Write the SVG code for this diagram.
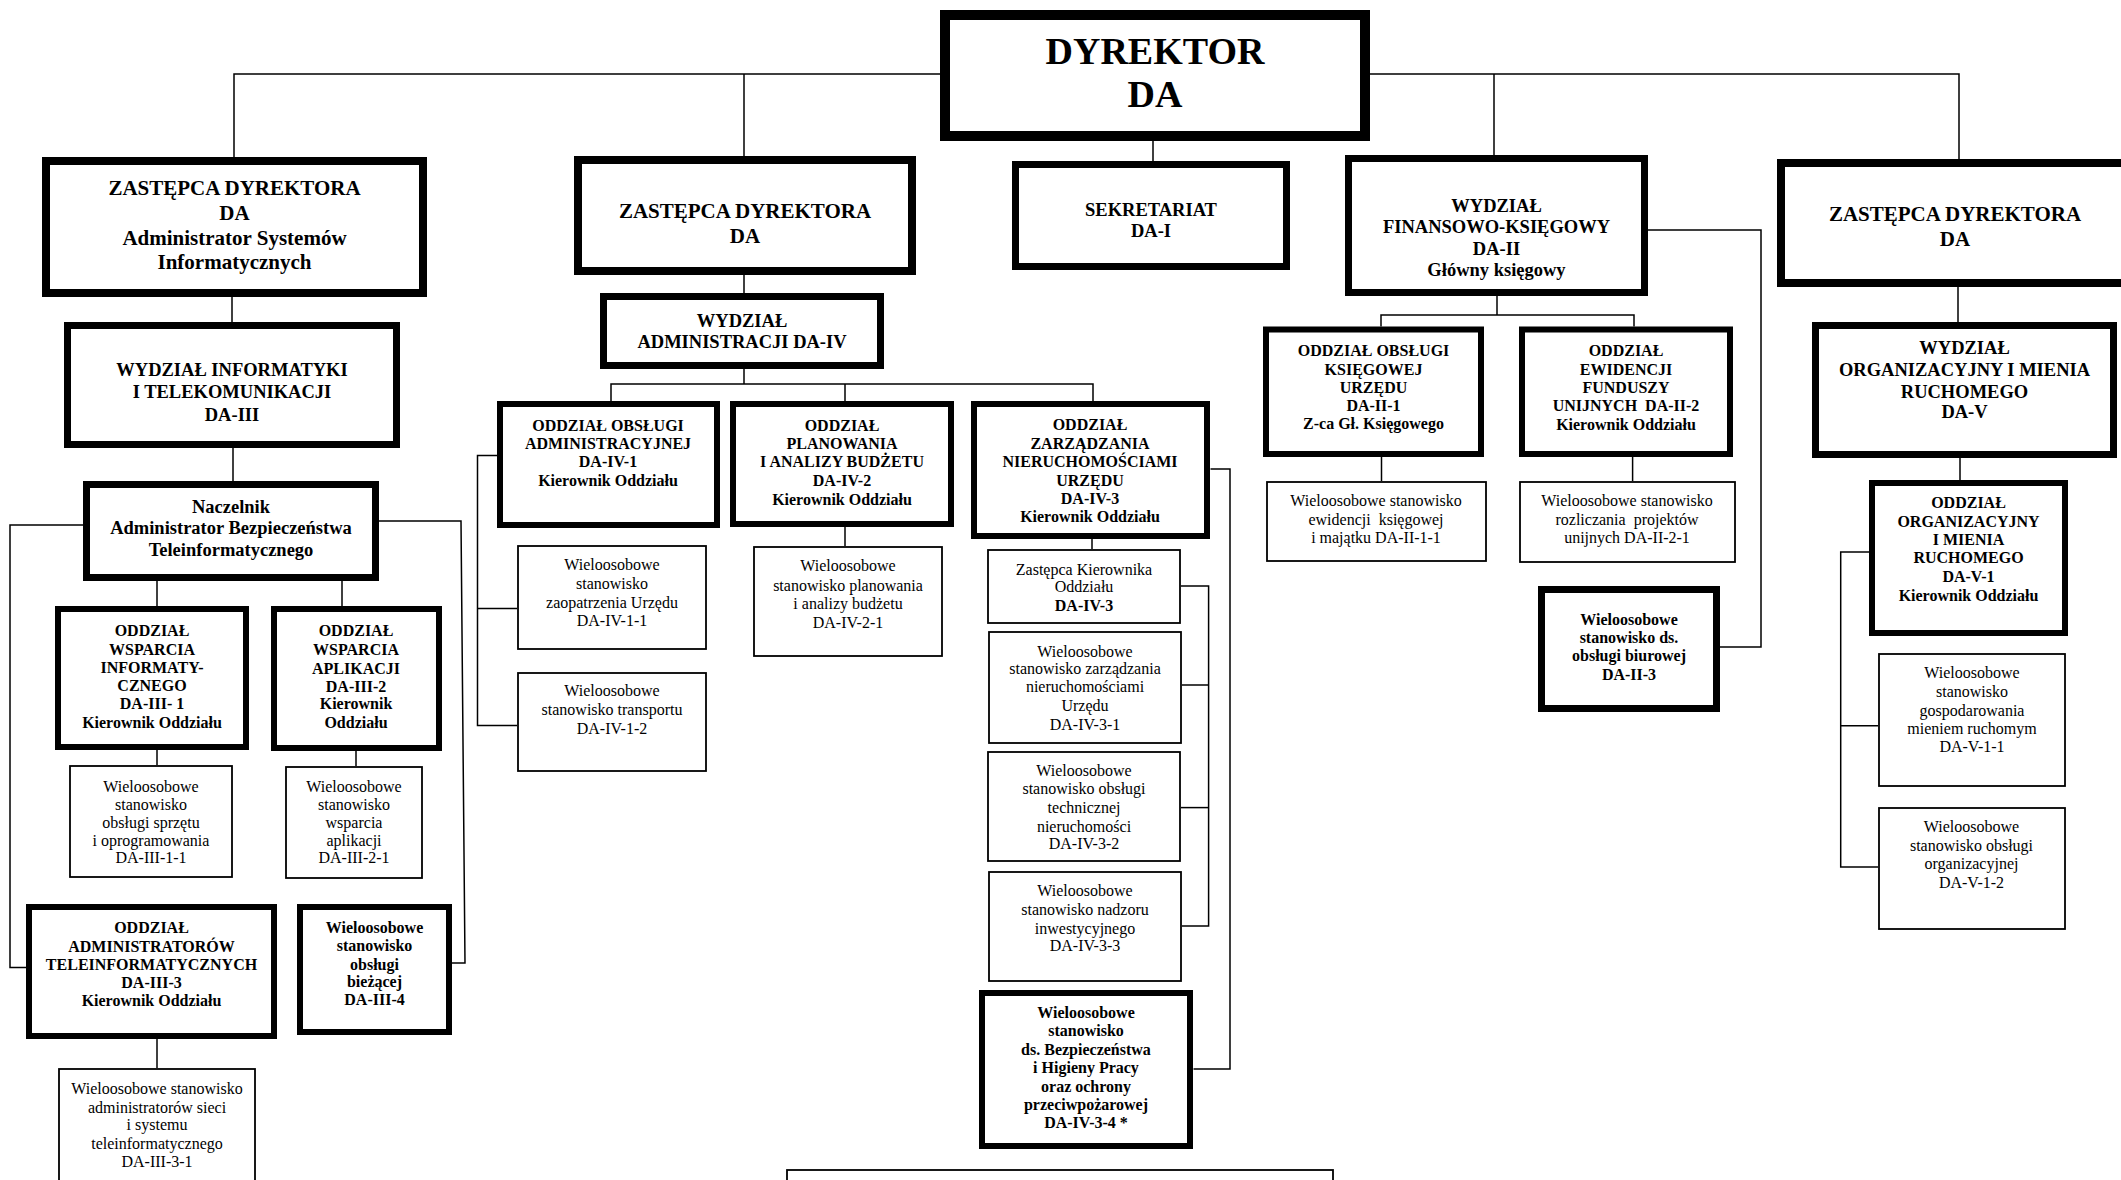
<svg xmlns="http://www.w3.org/2000/svg" width="2121" height="1180" viewBox="0 0 2121 1180">
<style>
rect{fill:#fff;stroke:#000}
.w10{stroke-width:10}.w8{stroke-width:8}.w7{stroke-width:7}.w6{stroke-width:6}.w2{stroke-width:1.8}
text{font-family:"Liberation Serif","Times New Roman",serif;text-anchor:middle;fill:#000}
.b{font-weight:bold}
.s38{font-size:38px}.s21{font-size:21px}.s18{font-size:18.5px}.s16{font-size:16px}
#conn path{fill:none;stroke:#000;stroke-width:1.5}
</style>
<rect x="0" y="0" width="2121" height="1180" style="fill:#fff;stroke:none"/>
<g id="conn">
<path d="M234,158 V74 H1959 V159"/>
<path d="M744,74 V156"/>
<path d="M1494,74 V155"/>
<path d="M1153,141 V161"/>
<path d="M232,297 V322"/>
<path d="M233,448 V481"/>
<path d="M157,581 V606"/>
<path d="M342,581 V606"/>
<path d="M157,750 V765"/>
<path d="M356,751 V766"/>
<path d="M157,1039 V1068"/>
<path d="M83,525 H10 V967.6 H26"/>
<path d="M379,521 H461 L465,963 H452"/>
<path d="M744,275 V293"/>
<path d="M744,369 V384"/>
<path d="M611,401 V384 H1093 V401"/>
<path d="M845,384 V401"/>
<path d="M497,455.5 H477.5 V725.4 H517"/>
<path d="M477.5,608.6 H517"/>
<path d="M845,527 V546"/>
<path d="M1092,539 V549"/>
<path d="M1181,586 H1208.6 V926 H1182"/>
<path d="M1182,685 H1208.6"/>
<path d="M1181,807.6 H1208.6"/>
<path d="M1210.5,469 H1230 V1069 H1193.5"/>
<path d="M1497,296 V315"/>
<path d="M1381,326.5 V315 H1634 V326.5"/>
<path d="M1381.5,457 V481"/>
<path d="M1632.6,457 V481"/>
<path d="M1648,230 H1761 V647 H1720"/>
<path d="M1958,287 V322"/>
<path d="M1960,458 V480"/>
<path d="M1869,552 H1840.7 V867 H1878"/>
<path d="M1840.7,725.7 H1878"/>
</g>

<g id="dyrektor"><rect class="w10" x="945" y="15" width="420" height="121"/>
<text class="b s38"><tspan x="1155" y="64">DYREKTOR</tspan><tspan x="1155" y="107">DA</tspan></text></g>

<g id="zastepca1"><rect class="w8" x="46" y="161" width="377" height="132"/>
<text class="b s21"><tspan x="234.5" y="195">ZASTĘPCA DYREKTORA</tspan><tspan x="234.5" y="220">DA</tspan><tspan x="234.5" y="245">Administrator Systemów</tspan><tspan x="234.5" y="269">Informatycznych</tspan></text></g>

<g id="zastepca2"><rect class="w8" x="578" y="160" width="334" height="111"/>
<text class="b s21"><tspan x="745" y="218">ZASTĘPCA DYREKTORA</tspan><tspan x="745" y="243">DA</tspan></text></g>

<g id="sekretariat"><rect class="w7" x="1015.5" y="164.5" width="271" height="102"/>
<text class="b s18"><tspan x="1151" y="216">SEKRETARIAT</tspan><tspan x="1151" y="237">DA-I</tspan></text></g>

<g id="wydzial-fin"><rect class="w7" x="1348.5" y="158.5" width="296" height="134"/>
<text class="b s18"><tspan x="1496.5" y="212">WYDZIAŁ</tspan><tspan x="1496.5" y="233">FINANSOWO-KSIĘGOWY</tspan><tspan x="1496.5" y="255">DA-II</tspan><tspan x="1496.5" y="276">Główny księgowy</tspan></text></g>

<g id="zastepca3"><rect class="w8" x="1781" y="163" width="355" height="120"/>
<text class="b s21"><tspan x="1955" y="221">ZASTĘPCA DYREKTORA</tspan><tspan x="1955" y="246">DA</tspan></text></g>

<g id="wydzial-inf"><rect class="w7" x="67.5" y="325.5" width="329" height="119"/>
<text class="b s18"><tspan x="232" y="376">WYDZIAŁ INFORMATYKI</tspan><tspan x="232" y="398">I TELEKOMUNIKACJI</tspan><tspan x="232" y="421">DA-III</tspan></text></g>

<g id="naczelnik"><rect class="w7" x="86.5" y="484.5" width="289" height="93"/>
<text class="b s18"><tspan x="231" y="513">Naczelnik</tspan><tspan x="231" y="534">Administrator Bezpieczeństwa</tspan><tspan x="231" y="555.5">Teleinformatycznego</tspan></text></g>

<g id="da-iii-1"><rect class="w6" x="58" y="609" width="188" height="138"/>
<text class="b s16"><tspan x="152" y="636">ODDZIAŁ</tspan><tspan x="152" y="654.5">WSPARCIA</tspan><tspan x="152" y="673">INFORMATY-</tspan><tspan x="152" y="691">CZNEGO</tspan><tspan x="152" y="709">DA-III- 1</tspan><tspan x="152" y="728">Kierownik Oddziału</tspan></text></g>

<g id="da-iii-2"><rect class="w6" x="274" y="609" width="165" height="139"/>
<text class="b s16"><tspan x="356" y="636">ODDZIAŁ</tspan><tspan x="356" y="655">WSPARCIA</tspan><tspan x="356" y="673.5">APLIKACJI</tspan><tspan x="356" y="691.5">DA-III-2</tspan><tspan x="356" y="709">Kierownik</tspan><tspan x="356" y="728">Oddziału</tspan></text></g>

<g id="da-iii-1-1"><rect class="w2" x="70" y="766" width="162" height="111"/>
<text class="s16"><tspan x="151" y="791.5">Wieloosobowe</tspan><tspan x="151" y="809.5">stanowisko</tspan><tspan x="151" y="828">obsługi sprzętu</tspan><tspan x="151" y="846">i oprogramowania</tspan><tspan x="151" y="863">DA-III-1-1</tspan></text></g>

<g id="da-iii-2-1"><rect class="w2" x="286" y="767" width="136" height="111"/>
<text class="s16"><tspan x="354" y="791.5">Wieloosobowe</tspan><tspan x="354" y="809.5">stanowisko</tspan><tspan x="354" y="828">wsparcia</tspan><tspan x="354" y="846">aplikacji</tspan><tspan x="354" y="863">DA-III-2-1</tspan></text></g>

<g id="da-iii-3"><rect class="w6" x="29" y="907" width="245" height="129"/>
<text class="b s16"><tspan x="151.5" y="933">ODDZIAŁ</tspan><tspan x="151.5" y="952">ADMINISTRATORÓW</tspan><tspan x="151.5" y="970">TELEINFORMATYCZNYCH</tspan><tspan x="151.5" y="988">DA-III-3</tspan><tspan x="151.5" y="1006">Kierownik Oddziału</tspan></text></g>

<g id="da-iii-4"><rect class="w6" x="300" y="907" width="149" height="125"/>
<text class="b s16"><tspan x="374.5" y="933">Wieloosobowe</tspan><tspan x="374.5" y="951">stanowisko</tspan><tspan x="374.5" y="969.5">obsługi</tspan><tspan x="374.5" y="987">bieżącej</tspan><tspan x="374.5" y="1005">DA-III-4</tspan></text></g>

<g id="da-iii-3-1"><rect class="w2" x="59" y="1069" width="196" height="130"/>
<text class="s16"><tspan x="157" y="1093.5">Wieloosobowe stanowisko</tspan><tspan x="157" y="1112.5">administratorów sieci</tspan><tspan x="157" y="1130">i systemu</tspan><tspan x="157" y="1149">teleinformatycznego</tspan><tspan x="157" y="1166.5">DA-III-3-1</tspan></text></g>

<g id="wydzial-adm"><rect class="w7" x="603.5" y="296.5" width="277" height="69"/>
<text class="b s18"><tspan x="742" y="327">WYDZIAŁ</tspan><tspan x="742" y="348">ADMINISTRACJI DA-IV</tspan></text></g>

<g id="da-iv-1"><rect class="w6" x="500" y="404" width="217" height="121"/>
<text class="b s16"><tspan x="608" y="431">ODDZIAŁ OBSŁUGI</tspan><tspan x="608" y="449">ADMINISTRACYJNEJ</tspan><tspan x="608" y="467">DA-IV-1</tspan><tspan x="608" y="486">Kierownik Oddziału</tspan></text></g>

<g id="da-iv-2"><rect class="w6" x="733" y="404" width="218" height="120"/>
<text class="b s16"><tspan x="842" y="431">ODDZIAŁ</tspan><tspan x="842" y="449">PLANOWANIA</tspan><tspan x="842" y="467">I ANALIZY BUDŻETU</tspan><tspan x="842" y="485.5">DA-IV-2</tspan><tspan x="842" y="505">Kierownik Oddziału</tspan></text></g>

<g id="da-iv-3"><rect class="w6" x="974" y="404" width="233" height="132"/>
<text class="b s16"><tspan x="1090" y="430">ODDZIAŁ</tspan><tspan x="1090" y="449">ZARZĄDZANIA</tspan><tspan x="1090" y="467">NIERUCHOMOŚCIAMI</tspan><tspan x="1090" y="485.5">URZĘDU</tspan><tspan x="1090" y="504">DA-IV-3</tspan><tspan x="1090" y="522">Kierownik Oddziału</tspan></text></g>

<g id="da-iv-1-1"><rect class="w2" x="518" y="546" width="188" height="103"/>
<text class="s16"><tspan x="612" y="570">Wieloosobowe</tspan><tspan x="612" y="589">stanowisko</tspan><tspan x="612" y="607.5">zaopatrzenia Urzędu</tspan><tspan x="612" y="626">DA-IV-1-1</tspan></text></g>

<g id="da-iv-1-2"><rect class="w2" x="518" y="673" width="188" height="98"/>
<text class="s16"><tspan x="612" y="696">Wieloosobowe</tspan><tspan x="612" y="715">stanowisko transportu</tspan><tspan x="612" y="733.5">DA-IV-1-2</tspan></text></g>

<g id="da-iv-2-1"><rect class="w2" x="754" y="547" width="188" height="109"/>
<text class="s16"><tspan x="848" y="571">Wieloosobowe</tspan><tspan x="848" y="590.5">stanowisko planowania</tspan><tspan x="848" y="608.5">i analizy budżetu</tspan><tspan x="848" y="627.5">DA-IV-2-1</tspan></text></g>

<g id="da-iv-3-zast"><rect class="w2" x="988" y="550" width="192" height="73"/>
<text class="s16"><tspan x="1084" y="575">Zastępca Kierownika</tspan><tspan x="1084" y="592">Oddziału</tspan><tspan x="1084" y="610.5" class="b">DA-IV-3</tspan></text></g>

<g id="da-iv-3-1"><rect class="w2" x="989" y="632" width="192" height="111"/>
<text class="s16"><tspan x="1085" y="656.5">Wieloosobowe</tspan><tspan x="1085" y="674">stanowisko zarządzania</tspan><tspan x="1085" y="692">nieruchomościami</tspan><tspan x="1085" y="710.5">Urzędu</tspan><tspan x="1085" y="729.5">DA-IV-3-1</tspan></text></g>

<g id="da-iv-3-2"><rect class="w2" x="988" y="752" width="192" height="109"/>
<text class="s16"><tspan x="1084" y="776">Wieloosobowe</tspan><tspan x="1084" y="794">stanowisko obsługi</tspan><tspan x="1084" y="812.5">technicznej</tspan><tspan x="1084" y="831.5">nieruchomości</tspan><tspan x="1084" y="849">DA-IV-3-2</tspan></text></g>

<g id="da-iv-3-3"><rect class="w2" x="989" y="872" width="192" height="109"/>
<text class="s16"><tspan x="1085" y="896">Wieloosobowe</tspan><tspan x="1085" y="914.5">stanowisko nadzoru</tspan><tspan x="1085" y="933.5">inwestycyjnego</tspan><tspan x="1085" y="951">DA-IV-3-3</tspan></text></g>

<g id="da-iv-3-4"><rect class="w6" x="982" y="993" width="208" height="153"/>
<text class="b s16"><tspan x="1086" y="1018">Wieloosobowe</tspan><tspan x="1086" y="1036">stanowisko</tspan><tspan x="1086" y="1054.5">ds. Bezpieczeństwa</tspan><tspan x="1086" y="1073">i Higieny Pracy</tspan><tspan x="1086" y="1091.5">oraz ochrony</tspan><tspan x="1086" y="1109.5">przeciwpożarowej</tspan><tspan x="1086" y="1127.5">DA-IV-3-4 *</tspan></text></g>

<g id="bottom-box"><rect class="w2" x="787" y="1170" width="546" height="40"/></g>

<g id="da-ii-1"><rect class="w6" x="1266" y="329.5" width="215" height="124.5"/>
<text class="b s16"><tspan x="1373.5" y="356">ODDZIAŁ OBSŁUGI</tspan><tspan x="1373.5" y="374.5">KSIĘGOWEJ</tspan><tspan x="1373.5" y="393">URZĘDU</tspan><tspan x="1373.5" y="411">DA-II-1</tspan><tspan x="1373.5" y="428.5">Z-ca Gł. Księgowego</tspan></text></g>

<g id="da-ii-2"><rect class="w6" x="1522" y="329.5" width="208" height="124.5"/>
<text class="b s16" xml:space="preserve"><tspan x="1626" y="356">ODDZIAŁ</tspan><tspan x="1626" y="374.5">EWIDENCJI</tspan><tspan x="1626" y="393">FUNDUSZY</tspan><tspan x="1626" y="411">UNIJNYCH  DA-II-2</tspan><tspan x="1626" y="430">Kierownik Oddziału</tspan></text></g>

<g id="da-ii-1-1"><rect class="w2" x="1267" y="482" width="219" height="79"/>
<text class="s16" xml:space="preserve"><tspan x="1376" y="506">Wieloosobowe stanowisko</tspan><tspan x="1376" y="525">ewidencji  księgowej</tspan><tspan x="1376" y="543">i majątku DA-II-1-1</tspan></text></g>

<g id="da-ii-2-1"><rect class="w2" x="1520" y="482" width="215" height="80"/>
<text class="s16" xml:space="preserve"><tspan x="1627" y="506">Wieloosobowe stanowisko</tspan><tspan x="1627" y="525">rozliczania  projektów</tspan><tspan x="1627" y="543">unijnych DA-II-2-1</tspan></text></g>

<g id="da-ii-3"><rect class="w7" x="1541.5" y="589.5" width="175" height="119"/>
<text class="b s16"><tspan x="1629" y="624.5">Wieloosobowe</tspan><tspan x="1629" y="643">stanowisko ds.</tspan><tspan x="1629" y="661">obsługi biurowej</tspan><tspan x="1629" y="679.5">DA-II-3</tspan></text></g>

<g id="wydzial-org"><rect class="w7" x="1815.5" y="325.5" width="298" height="129"/>
<text class="b s18"><tspan x="1964.5" y="354">WYDZIAŁ</tspan><tspan x="1964.5" y="376">ORGANIZACYJNY I MIENIA</tspan><tspan x="1964.5" y="398">RUCHOMEGO</tspan><tspan x="1964.5" y="418">DA-V</tspan></text></g>

<g id="da-v-1"><rect class="w6" x="1872" y="483" width="193" height="150"/>
<text class="b s16"><tspan x="1968.5" y="508">ODDZIAŁ</tspan><tspan x="1968.5" y="527">ORGANIZACYJNY</tspan><tspan x="1968.5" y="545">I MIENIA</tspan><tspan x="1968.5" y="563">RUCHOMEGO</tspan><tspan x="1968.5" y="582">DA-V-1</tspan><tspan x="1968.5" y="601">Kierownik Oddziału</tspan></text></g>

<g id="da-v-1-1"><rect class="w2" x="1879" y="654" width="186" height="132"/>
<text class="s16"><tspan x="1972" y="677.5">Wieloosobowe</tspan><tspan x="1972" y="697">stanowisko</tspan><tspan x="1972" y="715.5">gospodarowania</tspan><tspan x="1972" y="734">mieniem ruchomym</tspan><tspan x="1972" y="752">DA-V-1-1</tspan></text></g>

<g id="da-v-1-2"><rect class="w2" x="1879" y="808" width="186" height="121"/>
<text class="s16"><tspan x="1971.5" y="832">Wieloosobowe</tspan><tspan x="1971.5" y="851">stanowisko obsługi</tspan><tspan x="1971.5" y="869">organizacyjnej</tspan><tspan x="1971.5" y="888">DA-V-1-2</tspan></text></g>
</svg>
